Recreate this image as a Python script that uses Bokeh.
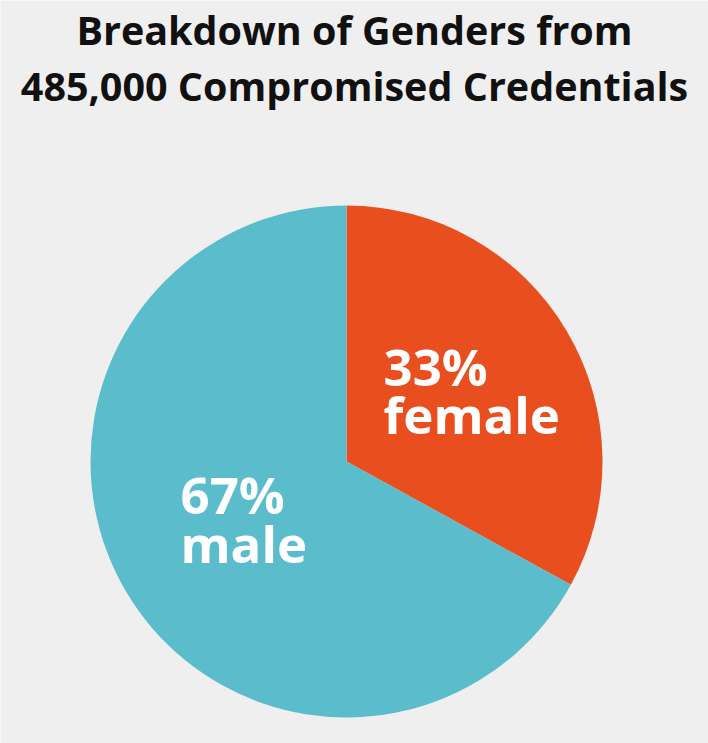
import math
from bokeh.plotting import figure
from bokeh.models import Range1d, ColumnDataSource
from bokeh.core.properties import value
from bokeh.embed import file_html
from bokeh.resources import INLINE

title_lines = ["Breakdown of Genders from", "485,000 Compromised Credentials"]
categories = ["female", "male"]
shares = [33, 67]
colors = ["#e94e1f", "#5bbdcc"]
pct_labels = ["33%", "67%"]

W, H = 708, 743
p = figure(width=W, height=H, output_backend="svg", toolbar_location=None,
           x_range=Range1d(0, W), y_range=Range1d(0, H), min_border=0)
p.axis.visible = False
p.grid.visible = False
p.outline_line_color = None
p.background_fill_color = "#efefef"
p.border_fill_color = "#efefef"

cx, cy, r = 346, H - 461, 256
total = sum(shares)
starts, ends = [], []
a = math.pi / 2
for s in shares:
    starts.append(a)
    a = a - 2 * math.pi * s / total
    ends.append(a)
src = ColumnDataSource(dict(start=starts, end=ends, color=colors))
p.wedge(x=cx, y=cy, radius=r, start_angle="start", end_angle="end",
        direction="clock", fill_color="color", line_color=None, source=src)

font = value("Open Sans")
# title
p.text(x=[W / 2, W / 2], y=[H - 29, H - 85], text=title_lines,
       text_font=font, text_font_style="bold", text_font_size="39.5px",
       text_color="#111111", text_align="center", text_baseline="alphabetic")

# slice labels
lx = [383, 180]
ly_pct = [H - 365, H - 493]
ly_cat = [H - 413, H - 542]
p.text(x=lx, y=ly_pct, text=pct_labels, text_font=font, text_font_style="bold",
       text_font_size="51px", text_color="white", text_align="left",
       text_baseline="alphabetic")
p.text(x=lx, y=ly_cat, text=categories, text_font=font, text_font_style="bold",
       text_font_size="51px", text_color="white", text_align="left",
       text_baseline="alphabetic")

open("out.html", "w").write(file_html(p, INLINE))
